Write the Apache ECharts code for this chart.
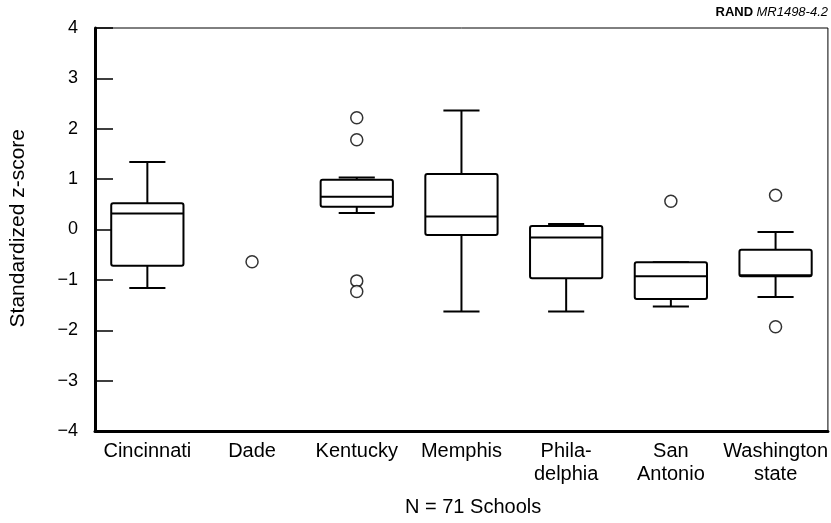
<!DOCTYPE html>
<html>
<head>
<meta charset="utf-8">
<script src="https://cdn.jsdelivr.net/npm/echarts@6/dist/echarts.min.js"></script>
<style>
  html, body { margin: 0; padding: 0; background: #fff; }
  #chart { width: 831px; height: 523px; }
</style>
</head>
<body>
<div id="chart"></div>
<script>
// categories along the x axis
var schools = ["Cincinnati", "Dade", "Kentucky", "Memphis", "Phila-\ndelphia", "San\nAntonio", "Washington\nstate"];

// box stats: [school index, lower whisker, Q1, median, Q3, upper whisker]
var boxStats = [
  [0, -1.16, -0.72, 0.32, 0.52, 1.34],
  [2, 0.33, 0.45, 0.65, 0.99, 1.03],
  [3, -1.63, -0.11, 0.26, 1.10, 2.36],
  [4, -1.63, -0.97, -0.16, 0.07, 0.11],
  [5, -1.53, -1.38, -0.93, -0.65, -0.65],
  [6, -1.34, -0.93, -0.91, -0.40, -0.05]
];

// outlier points: [school index, z-score]
var outliers = [
  [1, -0.64],
  [2, 2.22], [2, 1.78], [2, -1.02], [2, -1.23],
  [5, 0.56],
  [6, 0.68], [6, -1.93]
];

var yTicks = { min: -4, max: 4, interval: 1 };

var chart = echarts.init(document.getElementById("chart"));

function drawBox(params, api) {
  var x = api.value(0);
  var lo = api.coord([x, api.value(1)]);
  var q1 = api.coord([x, api.value(2)]);
  var med = api.coord([x, api.value(3)]);
  var q3 = api.coord([x, api.value(4)]);
  var hi = api.coord([x, api.value(5)]);
  var cx = med[0];
  var half = api.size([1, 0])[0] * 0.345;
  var cap = half / 2;
  var st = { stroke: "#000", lineWidth: 2, fill: null };
  function seg(x1, y1, x2, y2) {
    return { type: "line", shape: { x1: x1, y1: y1, x2: x2, y2: y2 }, style: st };
  }
  return {
    type: "group",
    children: [
      seg(cx, hi[1], cx, q3[1]),
      seg(cx - cap, hi[1], cx + cap, hi[1]),
      seg(cx, q1[1], cx, lo[1]),
      seg(cx - cap, lo[1], cx + cap, lo[1]),
      {
        type: "rect",
        shape: { x: cx - half, y: q3[1], width: half * 2, height: q1[1] - q3[1], r: 2 },
        style: { stroke: "#000", lineWidth: 2, fill: "#fff" }
      },
      seg(cx - half, med[1], cx + half, med[1])
    ]
  };
}

chart.setOption({
  animation: false,
  backgroundColor: "#fff",
  textStyle: { fontFamily: "Liberation Sans, Arial, sans-serif", color: "#000" },
  grid: {
    left: 95, right: 3, top: 28, bottom: 92,
    show: true, borderColor: "#000", borderWidth: 1
  },
  xAxis: {
    type: "category",
    data: schools,
    axisLine: { onZero: false, lineStyle: { color: "#000", width: 3 } },
    axisTick: { show: false },
    axisLabel: { color: "#000", fontSize: 20, margin: 9, lineHeight: 23, interval: 0 },
    splitLine: { show: false }
  },
  yAxis: {
    type: "value",
    min: yTicks.min,
    max: yTicks.max,
    interval: yTicks.interval,
    axisLine: { show: true, lineStyle: { color: "#000", width: 3 } },
    axisTick: { show: true, inside: true, length: 18, lineStyle: { color: "#000", width: 1.5 } },
    axisLabel: {
      color: "#000", fontSize: 18, margin: 17,
      formatter: function (v) { return String(v).replace("-", "\u2212"); }
    },
    splitLine: { show: false }
  },
  graphic: [
    {
      type: "text", left: 8, top: 129,
      style: { text: "Standardized z-score", font: "21px Liberation Sans", fill: "#000" },
      rotation: Math.PI / 2, originX: 0, originY: 0
    },
    {
      type: "text", left: 405, top: 497,
      style: { text: "N = 71 Schools", font: "20px Liberation Sans", fill: "#000" }
    },
    {
      type: "text", right: 3, top: 6,
      style: {
        text: "{b|RAND} {i|MR1498-4.2}",
        rich: {
          b: { fontWeight: "bold", fontSize: 13, fontFamily: "Liberation Sans" },
          i: { fontStyle: "italic", fontSize: 13, fontFamily: "Liberation Sans" }
        },
        fill: "#000"
      }
    }
  ],
  series: [
    {
      type: "custom",
      renderItem: drawBox,
      encode: { x: 0, y: [1, 2, 3, 4, 5] },
      data: boxStats,
      z: 2
    },
    {
      type: "scatter",
      data: outliers,
      symbol: "circle",
      symbolSize: 12,
      itemStyle: { color: "#fff", borderColor: "#000", borderWidth: 1.5 },
      z: 3
    }
  ]
});
</script>
</body>
</html>
